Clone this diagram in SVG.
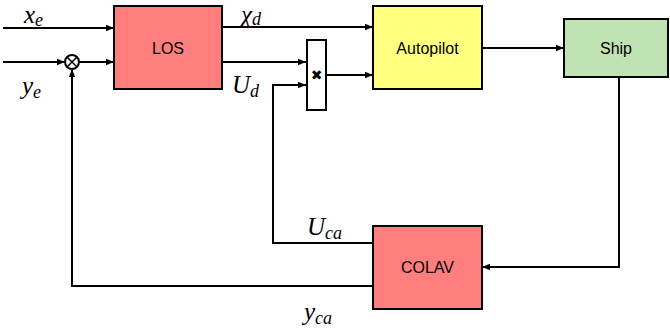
<svg xmlns="http://www.w3.org/2000/svg" width="670" height="333" viewBox="0 0 670 333">
<style>
.box{stroke:#000;stroke-width:2}
.lbl{font-family:"Liberation Sans",Arial,sans-serif;font-size:16px;fill:#000;text-anchor:middle;dominant-baseline:central}
.math{font-family:"Liberation Serif","DejaVu Serif",serif;font-style:italic;font-size:25px;fill:#000}
.sub{font-size:18px}
.ln{stroke:#000;stroke-width:2;fill:none}
</style>
<defs>
<marker id="ah" viewBox="0 0 10 10" refX="10" refY="5" markerWidth="8" markerHeight="8" markerUnits="userSpaceOnUse" orient="auto">
<path d="M0,1 L10,5 L0,9 Z" fill="#000"/>
</marker>
</defs>
<g id="connectors">
<path class="ln" d="M3,28 H114" marker-end="url(#ah)"/>
<path class="ln" d="M3,62 H65" marker-end="url(#ah)"/>
<path class="ln" d="M79,62 H114" marker-end="url(#ah)"/>
<path class="ln" d="M222,27 H373" marker-end="url(#ah)"/>
<path class="ln" d="M222,62 H306" marker-end="url(#ah)"/>
<path class="ln" d="M326,75 H373" marker-end="url(#ah)"/>
<path class="ln" d="M482,48 H564" marker-end="url(#ah)"/>
<path class="ln" d="M619,77 V267 H482" marker-end="url(#ah)"/>
<path class="ln" d="M373,243 H273 V85 H306" marker-end="url(#ah)"/>
<path class="ln" d="M373,286 H72 V69" marker-end="url(#ah)"/>
</g>
<g id="sum">
<circle cx="72" cy="62" r="7" fill="#fff" stroke="#000" stroke-width="2"/>
<path d="M67,57 L77,67 M77,57 L67,67" stroke="#000" stroke-width="1.6"/>
</g>
<g id="LOS">
<rect class="box" x="114" y="6" width="108" height="83" fill="#ff7f7f"/>
<text class="lbl" x="168" y="48">LOS</text>
</g>
<g id="mult">
<rect class="box" x="307" y="40" width="19" height="70" fill="#fff"/>
<text x="316.5" y="75" font-family="DejaVu Sans,sans-serif" font-size="14" text-anchor="middle" dominant-baseline="central" fill="#000">✖</text>
</g>
<g id="Autopilot">
<rect class="box" x="373" y="6" width="109" height="83" fill="#ffff80"/>
<text class="lbl" x="427.5" y="48">Autopilot</text>
</g>
<g id="Ship">
<rect class="box" x="564" y="19" width="104" height="58" fill="#c0e3b3"/>
<text class="lbl" x="616" y="48">Ship</text>
</g>
<g id="COLAV">
<rect class="box" x="373" y="226" width="109" height="83" fill="#ff7f7f"/>
<text class="lbl" x="427.5" y="267">COLAV</text>
</g>
<g id="labels">
<text class="math" x="24" y="23">x<tspan class="sub" dy="3">e</tspan></text>
<text class="math" x="22" y="94">y<tspan class="sub" dy="4">e</tspan></text>
<text class="math" x="241" y="23">χ<tspan class="sub" dy="2">d</tspan></text>
<text class="math" x="232" y="93">U<tspan class="sub" dy="4">d</tspan></text>
<text class="math" x="307" y="235">U<tspan class="sub" dy="4">ca</tspan></text>
<text class="math" x="304" y="320">y<tspan class="sub" dy="4">ca</tspan></text>
</g>
</svg>
